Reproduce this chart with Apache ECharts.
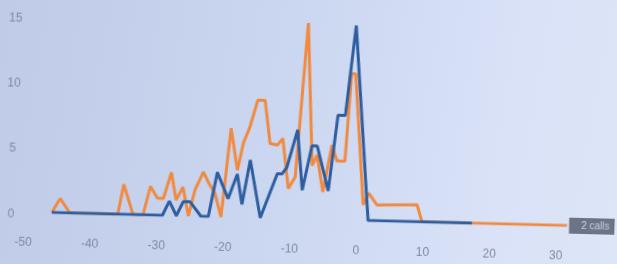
<!DOCTYPE html>
<html>
<head>
<meta charset="utf-8">
<script src="https://cdn.jsdelivr.net/npm/echarts@6/dist/echarts.min.js"></script>
<style>
html,body{margin:0;padding:0;width:617px;height:264px;overflow:hidden;
  background:linear-gradient(100deg,#bfcbe7 0%,#cbd6f0 45%,#d9e2f7 80%,#dde5f7 100%);}
#chart{width:617px;height:264px;transform:rotate(1.45deg);transform-origin:308px 132px;}
</style>
</head>
<body>
<div id="chart"></div>
<script>
// x ticks and y ticks
var xTicks = [-50, -40, -30, -20, -10, 0, 10, 20, 30];
var yTicks = [0, 5, 10, 15];

// orange series (vertices)
var orangeT = [-45.8, -44.6, -43.1, -35.9, -35.1, -33.6, -32.1, -31.1, -30.0, -29.1, -28.0, -27.2, -26.2, -25.3,
  -24.4, -23.2, -22.4, -21.4, -20.4, -19.2, -18.1, -17.3, -16.4, -15.3, -14.2, -13.3, -12.2, -11.4,
  -10.4, -9.4, -8.0, -6.9, -6.2, -5.2, -4.0, -3.2, -2.0, -1.3, -0.7, 0.9, 1.7, 3.0, 9.0, 9.8, 31.6];
var orangeV = [0, 1.1, 0, 0, 2.3, 0, 0, 2.2, 1.3, 1.3, 3.3, 1.2, 2.2, 0,
  2, 3.4, 2.6, 1.8, 0, 6.8, 3.6, 5.7, 6.9, 9, 9, 5.7, 5.6, 6.1,
  2.3, 3.2, 15, 4.1, 4.9, 2.1, 5.7, 4.5, 4.5, 11.2, 11.2, 1.2, 2.1, 1.2, 1.3, 0, 0];

// blue series
var blueT = [-45.8, -29.2, -28.2, -27.1, -26.1, -25.1, -23.4, -22.3, -21.1, -19.4, -18.1, -17.3, -16.2, -14.5,
  -12.1, -11.4, -10.7, -9.2, -8.3, -7.0, -6.2, -4.4, -3.2, -2.1, -0.8, 1.7, 17.3];
var blueV = [0, 0, 1.1, 0, 1.1, 1.1, 0, 0, 3.4, 1.4, 3.3, 1, 4.4, 0,
  3.4, 3.4, 3.9, 6.8, 2.2, 5.6, 5.6, 2.2, 8, 8, 14.9, 0, 0];

var endText = '2 calls';

function pairs(ts, vs){
	var out = [];
	for (var i = 0; i < ts.length; i++) {
		out.push([ts[i], vs[i]]);
	}
	return out;
}

var myChart = echarts.init(document.getElementById('chart'), null, {renderer: 'canvas'});
var labelStyle = {color: '#7f8aa3', fontSize: 12, fontFamily: 'Liberation Sans'};

myChart.setOption({
	animation: false,
	backgroundColor: 'transparent',
	grid: {left: 26, right: 5, top: 23, bottom: 45},
	xAxis: {
		type: 'value',
		min: -50, max: 38, interval: 10,
		axisLine: {show: false}, axisTick: {show: false}, splitLine: {show: false},
		axisLabel: Object.assign({margin: 25, showMaxLabel: false, formatter: function(v){
			return xTicks.indexOf(v) >= 0 ? String(v) : '';
		}}, labelStyle)
	},
	yAxis: {
		type: 'value',
		min: 0, max: 15, interval: 5,
		axisLine: {show: false}, axisTick: {show: false}, splitLine: {show: false},
		axisLabel: Object.assign({margin: 13, align: 'center', verticalAlign: 'top', lineHeight: 5,
			formatter: function(v){
				return yTicks.indexOf(v) >= 0 ? String(v) : '';
			}}, labelStyle)
	},
	series: [
		{
			type: 'line',
			name: 'orange',
			data: pairs(orangeT, orangeV),
			showSymbol: false,
			lineStyle: {color: '#f08a40', width: 3},
			itemStyle: {color: '#f08a40'},
			endLabel: {
				show: true,
				formatter: endText,
				distance: 2,
				color: '#c9d0e2',
				fontSize: 10,
				fontFamily: 'Liberation Sans',
				backgroundColor: '#6c7487',
				padding: [3, 12]
			},
			z: 2
		},
		{
			type: 'line',
			name: 'blue',
			data: pairs(blueT, blueV),
			showSymbol: false,
			lineStyle: {color: '#2e5e9f', width: 3},
			itemStyle: {color: '#2e5e9f'},
			z: 3
		}
	]
});
</script>
</body>
</html>
